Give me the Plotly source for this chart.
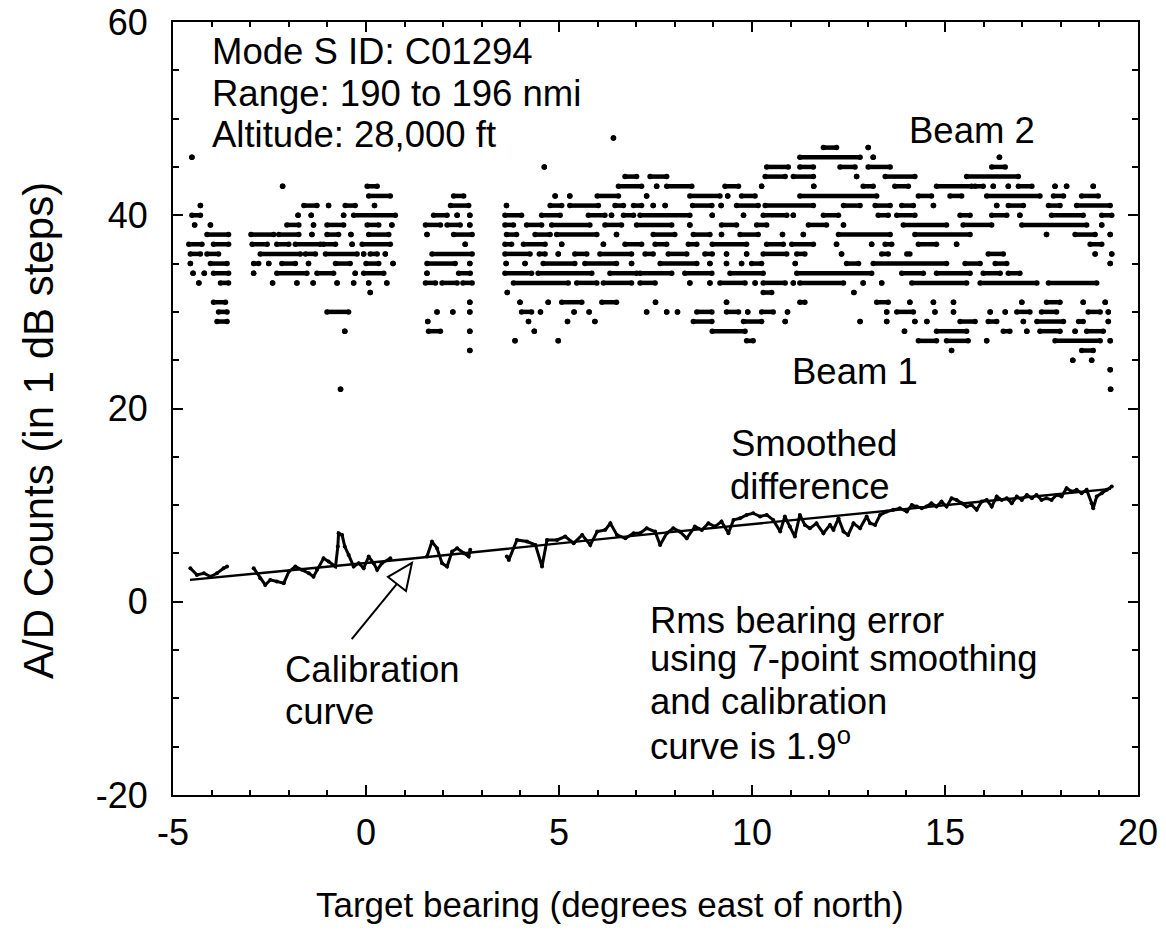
import plotly.graph_objects as go

# ---------------- data ----------------
# Beam 1 / Beam 2 A/D counts (1 dB steps). For every count level: runs of
# consecutive samples given as [bearing_from, bearing_to] (degrees).
runs_48 = [[6.41, 6.41]]
runs_47 = [[11.85, 12.19], [13.01, 13.01]]
runs_46 = [[-4.51, -4.51], [11.24, 12.80], [13.14, 13.14], [16.41, 16.41]]
runs_45 = [[4.62, 4.62], [10.38, 10.94], [11.24, 11.59], [12.28, 12.67], [13.01, 13.58], [16.21, 16.56]]
runs_44 = [[6.71, 7.01], [7.36, 7.79], [10.34, 10.86], [11.07, 11.59], [12.71, 12.71], [13.45, 14.22],
           [15.56, 16.90]]
runs_43 = [[-2.16, -2.16], [0.03, 0.29], [6.54, 7.14], [7.53, 7.53], [7.79, 8.44], [9.30, 9.65],
           [10.25, 10.25], [11.60, 11.60], [12.88, 13.14], [13.70, 14.05], [14.78, 15.69], [15.78, 15.99],
           [16.25, 16.25], [16.64, 16.64], [16.90, 17.25], [17.85, 17.85], [18.15, 18.15], [18.84, 18.84]]
runs_42 = [[0.07, 0.63], [2.27, 2.53], [4.90, 4.90], [5.28, 5.28], [5.99, 6.54], [7.27, 7.27], [8.39, 9.17],
           [9.37, 9.37], [9.73, 10.08], [11.24, 13.23], [14.31, 14.65], [15.13, 15.43], [16.08, 17.46],
           [17.81, 18.07], [18.54, 18.97]]
runs_41 = [[-4.29, -4.29], [-1.61, -1.27], [-0.97, -0.97], [-0.54, -0.28], [0.22, 0.22], [2.19, 2.66],
           [3.64, 3.64], [4.77, 5.07], [5.28, 6.02], [6.45, 6.67], [6.93, 7.14], [7.44, 7.44], [7.75, 7.75],
           [8.46, 8.96], [9.20, 9.20], [9.60, 10.16], [10.34, 11.59], [12.37, 12.80], [13.19, 13.58],
           [13.88, 14.18], [14.70, 14.70], [16.34, 16.34], [16.64, 17.03], [17.68, 17.98], [18.41, 19.28]]
runs_40 = [[-4.51, -4.29], [-1.76, -1.76], [-1.42, -1.42], [-0.58, -0.58], [-0.32, 0.76], [1.75, 2.10],
           [2.36, 2.36], [2.69, 2.69], [3.60, 4.03], [4.55, 5.03], [5.76, 6.19], [6.36, 6.36], [6.67, 6.93],
           [7.10, 8.39], [8.97, 8.97], [9.78, 9.78], [10.29, 10.90], [11.07, 11.07], [11.85, 12.24],
           [13.27, 13.53], [13.75, 14.22], [15.39, 15.65], [16.21, 16.60], [16.94, 16.94], [17.76, 18.58],
           [19.06, 19.32]]
runs_39 = [[-4.44, -4.44], [-4.03, -4.03], [-2.05, -1.74], [-1.36, -1.36], [-1.01, -0.58], [0.03, 0.33],
           [0.67, 0.67], [1.54, 1.93], [2.10, 2.44], [2.69, 2.69], [3.60, 3.82], [4.16, 4.55], [4.81, 5.80],
           [6.19, 6.62], [7.01, 7.92], [8.39, 8.39], [9.21, 9.60], [10.12, 10.38], [11.46, 11.93],
           [12.37, 12.37], [13.92, 15.04], [15.47, 16.21], [16.99, 18.67], [19.06, 19.06]]
runs_38 = [[-4.12, -3.56], [-2.98, -2.39], [-2.26, -1.74], [-1.40, -1.40], [-1.01, -0.71], [-0.39, -0.39],
           [0.07, 0.59], [1.58, 1.58], [2.27, 2.75], [3.64, 3.90], [4.38, 4.77], [4.94, 5.98], [6.49, 6.49],
           [7.44, 8.00], [8.48, 8.91], [9.21, 9.21], [9.69, 10.16], [10.79, 10.79], [11.33, 11.33],
           [12.24, 13.58], [14.22, 15.65], [17.63, 17.63], [18.37, 18.89], [19.28, 19.28]]
runs_37 = [[-4.59, -4.25], [-3.95, -3.56], [-2.95, -2.56], [-2.31, -2.00], [-1.83, -1.18], [-1.10, -0.79],
           [-0.36, -0.36], [-0.10, 0.63], [2.57, 2.57], [3.60, 3.77], [4.08, 4.64], [5.07, 5.07], [6.15, 6.15],
           [6.71, 7.14], [7.49, 7.79], [8.35, 8.57], [8.97, 9.86], [10.38, 10.81], [11.03, 11.59],
           [12.19, 12.19], [13.10, 13.10], [13.45, 13.62], [14.31, 14.78], [15.30, 15.30], [18.76, 19.06]]
runs_36 = [[-4.55, -4.29], [-4.12, -3.82], [-2.74, -1.70], [-1.57, -1.31], [-1.05, -0.23], [-0.06, -0.06],
           [0.11, 0.29], [0.50, 0.50], [1.71, 2.75], [3.60, 4.25], [4.49, 4.64], [4.98, 4.98], [5.41, 5.72],
           [6.06, 6.88], [7.23, 7.44], [7.83, 8.31], [8.78, 8.97], [9.34, 9.34], [9.86, 9.86], [10.29, 10.90],
           [11.16, 11.37], [12.32, 12.32], [13.36, 13.53], [14.01, 14.09], [16.12, 16.51], [18.89, 18.89],
           [19.32, 19.32]]
runs_35 = [[-4.55, -4.55], [-4.03, -3.60], [-2.91, -2.78], [-2.52, -2.52], [-2.18, -1.83], [-1.49, -1.49],
           [-0.79, -0.41], [0.00, 0.33], [0.70, 0.70], [1.58, 2.31], [2.69, 2.69], [3.63, 3.63], [4.12, 4.12],
           [4.59, 5.41], [5.67, 6.49], [6.88, 6.88], [7.62, 8.57], [8.91, 8.91], [9.34, 9.34], [9.73, 9.73],
           [9.99, 10.25], [11.12, 11.12], [12.45, 12.76], [13.14, 15.04], [15.52, 15.91], [16.30, 16.60],
           [19.28, 19.28]]
runs_34 = [[-4.48, -4.48], [-4.19, -4.19], [-3.95, -3.56], [-2.91, -2.91], [-2.31, -1.53], [-1.27, -0.84],
           [-0.28, -0.28], [-0.06, 0.46], [1.58, 1.58], [2.40, 2.70], [3.60, 4.29], [4.46, 5.85], [6.32, 7.01],
           [7.10, 7.92], [8.26, 8.96], [9.43, 10.29], [11.16, 13.10], [13.88, 14.44], [14.78, 15.65],
           [15.99, 16.43], [16.64, 16.94]]
runs_33 = [[-4.33, -4.33], [-3.77, -3.56], [-2.42, -2.42], [-1.79, -1.79], [-1.37, -1.37], [-0.75, -0.75],
           [-0.32, -0.32], [0.07, 0.07], [0.54, 0.54], [1.54, 1.80], [1.97, 2.36], [2.51, 2.75], [3.82, 5.24],
           [5.46, 5.98], [6.15, 6.88], [7.10, 7.49], [8.39, 8.39], [8.91, 8.91], [9.17, 9.82], [10.08, 10.08],
           [10.29, 10.86], [11.07, 11.07], [11.24, 12.37], [12.88, 12.88], [13.36, 13.36], [14.14, 15.56],
           [15.91, 17.38], [17.68, 18.93]]
runs_32 = [[0.11, 0.11], [3.66, 3.66], [10.29, 10.51], [12.64, 12.64]]
runs_31 = [[-3.95, -3.64], [2.69, 2.69], [3.99, 3.99], [4.72, 4.72], [5.07, 5.59], [6.11, 6.49], [7.50, 7.50],
           [9.34, 9.34], [11.24, 11.37], [13.23, 13.53], [14.09, 14.09], [14.70, 14.70], [15.22, 15.22],
           [16.99, 16.99], [17.63, 17.98], [18.58, 18.58], [19.15, 19.15]]
runs_30 = [[-3.82, -3.60], [-1.01, -0.45], [1.84, 1.84], [2.25, 2.25], [2.69, 2.69], [4.03, 4.29], [4.52, 4.52],
           [5.39, 5.39], [5.78, 5.78], [7.27, 7.27], [7.79, 7.79], [8.07, 8.07], [8.57, 8.96], [9.34, 9.65],
           [9.89, 9.89], [10.25, 10.55], [10.92, 10.92], [13.49, 13.49], [13.75, 14.18], [14.74, 14.74],
           [15.22, 15.22], [16.17, 16.17], [16.56, 16.56], [16.86, 17.20], [17.50, 17.89], [18.71, 19.02],
           [19.23, 19.23]]
runs_29 = [[-3.86, -3.60], [1.60, 1.60], [4.21, 4.21], [5.22, 5.22], [5.93, 5.93], [8.48, 8.96], [9.78, 10.25],
           [10.86, 10.86], [12.80, 12.80], [13.49, 13.49], [14.22, 14.22], [14.53, 14.53], [15.39, 15.78],
           [16.12, 16.34], [17.03, 17.03], [17.38, 18.07], [18.46, 18.58], [19.23, 19.23]]
runs_28 = [[-0.55, -0.55], [1.62, 1.93], [2.69, 2.69], [4.36, 4.36], [8.97, 9.82], [13.95, 13.95],
           [14.78, 15.56], [16.51, 16.68], [17.12, 17.12], [17.46, 17.98], [18.37, 18.37], [18.67, 19.10]]
runs_27 = [[3.86, 3.86], [4.98, 4.98], [9.86, 10.03], [14.31, 14.78], [15.04, 15.60], [16.08, 16.08],
           [17.85, 19.02], [19.28, 19.28]]
runs_26 = [[2.69, 2.69], [15.17, 15.17], [18.54, 18.84]]
runs_25 = [[18.31, 18.31], [18.80, 18.80]]
runs_24 = [[19.28, 19.28]]
runs_22 = [[-0.66, -0.66], [19.29, 19.29]]

beam_levels = [48, 47, 46, 45, 44, 43, 42, 41, 40, 39, 38, 37, 36, 35, 34, 33, 32, 31, 30, 29, 28, 27, 26, 25,
               24, 22]
beam_runs = [runs_48, runs_47, runs_46, runs_45, runs_44, runs_43, runs_42, runs_41, runs_40, runs_39, runs_38,
             runs_37, runs_36, runs_35, runs_34, runs_33, runs_32, runs_31, runs_30, runs_29, runs_28, runs_27,
             runs_26, runs_25, runs_24, runs_22]

# Smoothed difference (bearing, counts), one list per contiguous data segment
smooth_seg_1 = [(-4.55, 3.47), (-4.38, 2.78), (-4.20, 2.95), (-4.03, 2.60), (-3.86, 2.95), (-3.69, 3.47),
                (-3.60, 3.64)]
smooth_seg_2 = [(-2.91, 3.47), (-2.74, 2.43), (-2.61, 1.74), (-2.48, 2.26), (-2.31, 2.09), (-2.13, 1.92),
                (-2.00, 3.12), (-1.83, 3.64), (-1.66, 3.30), (-1.48, 2.95), (-1.36, 2.60), (-1.27, 3.30),
                (-1.10, 4.50), (-0.97, 4.16), (-0.79, 3.64), (-0.73, 5.71), (-0.71, 7.09), (-0.62, 6.92),
                (-0.55, 5.71), (-0.45, 4.85), (-0.32, 3.64), (-0.19, 3.98), (-0.06, 3.47), (0.07, 4.68),
                (0.20, 3.98), (0.29, 3.30), (0.41, 3.98), (0.63, 4.50)]
smooth_seg_3 = [(1.58, 4.68), (1.71, 6.23), (1.84, 5.54), (1.97, 3.98), (2.10, 3.64), (2.23, 5.19),
                (2.36, 5.54), (2.53, 5.02), (2.66, 4.68), (2.70, 5.37)]
smooth_seg_4 = [(3.65, 4.68), (3.70, 4.33), (3.91, 6.40), (4.17, 6.23), (4.39, 5.88), (4.56, 3.64),
                (4.69, 6.40), (4.95, 6.40), (5.16, 6.75), (5.38, 6.06), (5.60, 6.92), (5.81, 5.88),
                (5.99, 7.26), (6.20, 7.44), (6.33, 8.12), (6.50, 6.92), (6.72, 6.57), (6.93, 7.09),
                (7.10, 7.09), (7.27, 7.60), (7.49, 7.26), (7.62, 5.88), (7.79, 7.09), (7.96, 7.60),
                (8.13, 7.26), (8.31, 6.57), (8.52, 7.78), (8.70, 7.43), (8.87, 8.12), (9.04, 7.78),
                (9.21, 8.30), (9.39, 7.09), (9.52, 8.47), (9.69, 8.64), (9.86, 8.99), (10.03, 9.16),
                (10.21, 8.82), (10.38, 8.99), (10.55, 8.47), (10.73, 7.26), (10.85, 8.82), (10.98, 7.78),
                (11.11, 6.74), (11.24, 8.99), (11.37, 7.95), (11.50, 7.60), (11.67, 8.12), (11.85, 7.09),
                (12.02, 7.95), (12.11, 7.43), (12.24, 8.64), (12.37, 7.26), (12.49, 6.92), (12.63, 8.12),
                (12.80, 7.60), (12.97, 8.82), (13.06, 8.12), (13.19, 7.95), (13.32, 8.99), (13.49, 9.33),
                (13.66, 9.51), (13.83, 9.68), (14.01, 9.33), (14.14, 10.02), (14.27, 9.85), (14.40, 9.68),
                (14.52, 9.85), (14.65, 10.20), (14.78, 9.85), (14.91, 10.37), (15.04, 9.85), (15.17, 10.71),
                (15.30, 10.54), (15.43, 10.20), (15.56, 9.85), (15.69, 10.02), (15.82, 9.51), (15.95, 10.37),
                (16.08, 10.54), (16.21, 9.85), (16.34, 10.89), (16.47, 10.54), (16.60, 10.71), (16.73, 10.20),
                (16.86, 10.89), (16.99, 10.54), (17.12, 11.06), (17.25, 10.71), (17.37, 11.06), (17.50, 10.54),
                (17.63, 10.71), (17.76, 10.54), (17.89, 11.06), (18.02, 10.89), (18.15, 11.75), (18.28, 11.40),
                (18.41, 11.58), (18.54, 11.23), (18.67, 11.58), (18.80, 10.20), (18.84, 9.68), (18.93, 10.89),
                (19.06, 11.23), (19.19, 11.58), (19.32, 11.92)]
smooth_segments = [smooth_seg_1, smooth_seg_2, smooth_seg_3, smooth_seg_4]

# Calibration curve (bearing, counts)
calib_x = [-4.56, 1.14, 7.10, 19.30]
calib_y = [2.26, 4.45, 6.90, 11.68]

x_tick_vals = [-5, 0, 5, 10, 15, 20]
x_tick_text = ["-5", "0", "5", "10", "15", "20"]
y_tick_vals = [-20, 0, 20, 40, 60]
y_tick_text = ["-20", "0", "20", "40", "60"]

FONT = "Liberation Sans, Arial, Helvetica, sans-serif"

# ---------------- figure ----------------
fig = go.Figure()

bx, by = [], []
for lvl, runs in zip(beam_levels, beam_runs):
    for a, b in runs:
        bx += [a, b, None]
        by += [lvl, lvl, None]
fig.add_trace(go.Scatter(x=bx, y=by, mode="lines+markers",
                         line=dict(color="black", width=4.5),
                         marker=dict(color="black", size=5.5),
                         connectgaps=False, hoverinfo="skip", name="Beams"))

sx, sy = [], []
for seg in smooth_segments:
    for px, py in seg:
        sx.append(px)
        sy.append(py)
    sx.append(None)
    sy.append(None)
fig.add_trace(go.Scatter(x=sx, y=sy, mode="lines+markers",
                         line=dict(color="black", width=3),
                         marker=dict(color="black", size=4),
                         connectgaps=False, hoverinfo="skip", name="Smoothed difference"))

fig.add_trace(go.Scatter(x=calib_x, y=calib_y, mode="lines",
                         line=dict(color="black", width=2.4),
                         hoverinfo="skip", name="Calibration curve"))

axis_common = dict(showline=True, linecolor="black", linewidth=2, mirror="ticks",
                   ticks="inside", ticklen=10, tickwidth=2, tickcolor="black",
                   showgrid=False, zeroline=False, automargin=False,
                   ticklabeloverflow="allow",
                   tickfont=dict(family=FONT, size=36, color="black"))

fig.update_xaxes(range=[-5, 20], tickmode="array", tickvals=x_tick_vals, ticktext=x_tick_text,
                 ticklabelstandoff=5,
                 minor=dict(dtick=1, tick0=0, ticks="inside", ticklen=5, tickwidth=1.6,
                            tickcolor="black", showgrid=False),
                 **axis_common)
fig.update_yaxes(range=[-20, 60], tickmode="array", tickvals=y_tick_vals, ticktext=y_tick_text,
                 ticklabelstandoff=16,
                 minor=dict(dtick=5, tick0=0, ticks="inside", ticklen=6, tickwidth=1.6,
                            tickcolor="black", showgrid=False),
                 **axis_common)

ann_font = dict(family=FONT, size=36.5, color="black")
# text lines: (text, bearing of left edge, counts at cap centre)
text_lines = [
    ("Mode S ID: C01294", -4.04, 56.92),
    ("Range: 190 to 196 nmi", -4.04, 52.57),
    ("Altitude: 28,000 ft", -4.04, 48.32),
    ("Beam 2", 14.02, 48.79),
    ("Beam 1", 10.98, 23.84),
    ("Smoothed", 9.40, 16.34),
    ("difference", 9.38, 11.88),
    ("Calibration", -2.15, -6.96),
    ("curve", -2.15, -11.40),
    ("Rms bearing error", 7.31, -1.99),
    ("using 7-point smoothing", 7.31, -5.86),
    ("and calibration", 7.31, -10.37),
    ("curve is 1.9<sup>o</sup>", 7.31, -14.69),
]
annotations = [dict(x=tx, y=ty, xref="x", yref="y", xanchor="left", yanchor="middle", text=t,
                    showarrow=False, font=ann_font) for t, tx, ty in text_lines]
annotations += [
    dict(x=0.453, y=-0.142, xref="paper", yref="paper", xanchor="center", yanchor="middle", showarrow=False,
         text="Target bearing (degrees east of north)", font=dict(family=FONT, size=35, color="black")),
    dict(x=-0.14, y=0.472, xref="paper", yref="paper", xanchor="center", yanchor="middle", showarrow=False,
         textangle=-90, text="A/D Counts (in 1 dB steps)", font=dict(family=FONT, size=42, color="black")),
]
fig.update_layout(annotations=annotations)

# arrow pointing at the calibration curve: shaft and hollow head
fig.add_shape(type="line", xref="x", yref="y", x0=-0.37, y0=-3.88, x1=0.80, y1=1.84,
              line=dict(color="black", width=2), layer="above")
fig.add_shape(type="path", xref="x", yref="y",
              path="M 1.19 4.02 L 0.570 2.57 L 1.036 1.12 Z",
              line=dict(color="black", width=2), fillcolor="white", layer="above")

fig.update_layout(width=1166, height=949,
                  margin=dict(l=173, r=28, t=22, b=154, autoexpand=False),
                  plot_bgcolor="white", paper_bgcolor="white",
                  showlegend=False,
                  font=dict(family=FONT, size=34, color="black"))

# remove the page's default 8 px body margin so the figure sits at the window origin
fig.write_html("out.html", config={"displayModeBar": False},
               post_script="document.body.style.margin='0px';")
